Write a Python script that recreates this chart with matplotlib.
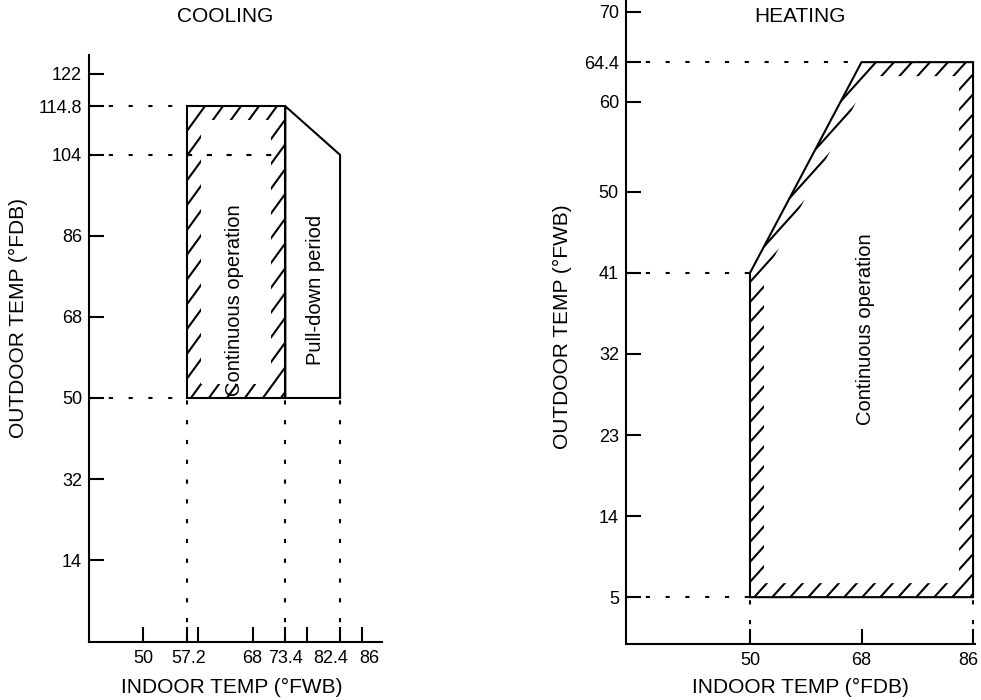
import numpy as np
import matplotlib
matplotlib.use("Agg")
import matplotlib.pyplot as plt
import matplotlib.transforms as mtrans
from matplotlib.path import Path
from matplotlib.patches import PathPatch
from matplotlib.collections import LineCollection

plt.rcParams['font.family'] = ['Liberation Sans', 'DejaVu Sans']

# cooling chart data
cool_xticks = [50, 57.2, 68, 73.4, 82.4, 86]
cool_xminor = [59, 77]
cool_yticks = [14, 32, 50, 68, 86, 104, 114.8, 122]
cool_cont_x = [57.2, 57.2, 73.4, 73.4]          # continuous operation
cool_cont_y = [50, 114.8, 114.8, 50]
cool_pull_x = [73.4, 82.4, 82.4, 73.4]          # pull-down period
cool_pull_y = [114.8, 104, 50, 50]

# heating chart data
heat_xticks = [50, 68, 86]
heat_yticks = [5, 14, 23, 32, 41, 50, 60, 64.4, 70]
heat_x = [50, 50, 68, 86, 86]
heat_y = [5, 41, 64.4, 64.4, 5]

LW = 1.5
DOT = dict(color='black', lw=1.5, linestyle=(0, (2, 7.5)))


def ccw(pts):
    pts = np.asarray(pts, float)
    area = 0.5 * np.sum(pts[:, 0] * np.roll(pts[:, 1], -1) - np.roll(pts[:, 0], -1) * pts[:, 1])
    return pts[::-1] if area < 0 else pts


def inset(pts, w):
    """Shrink a CCW polygon (display coords) inward by w pixels."""
    n = len(pts)
    lines = []
    for i in range(n):
        p, q = pts[i], pts[(i + 1) % n]
        d = (q - p) / np.linalg.norm(q - p)
        lines.append((p + w * np.array([-d[1], d[0]]), d))
    out = []
    for i in range(n):
        (p1, d1), (p2, d2) = lines[i - 1], lines[i]
        t, s = np.linalg.solve(np.array([d1, -d2]).T, p2 - p1)
        out.append(p1 + t * d1)
    return np.array(out)


def hatched_border(ax, xs, ys, width=14, spacing=18, angle=54):
    """Draw short slanted strokes along the inside of a polygon's border."""
    tr = ax.transData
    outer = ccw(tr.transform(np.column_stack([xs, ys])))
    inner = inset(outer, width)[::-1]
    verts = np.vstack([outer, outer[:1], inner, inner[:1]])
    codes = ([Path.MOVETO] + [Path.LINETO] * (len(outer) - 1) + [Path.CLOSEPOLY]
             + [Path.MOVETO] + [Path.LINETO] * (len(inner) - 1) + [Path.CLOSEPOLY])
    frame = PathPatch(Path(tr.inverted().transform(verts), codes),
                      facecolor='none', edgecolor='none', lw=0)
    ax.add_patch(frame)
    x0, x1 = outer[:, 0].min(), outer[:, 0].max()
    y0, y1 = outer[:, 1].min(), outer[:, 1].max()
    run = (y1 - y0) / np.tan(np.radians(angle))
    segs = []
    for a in np.arange(x0 - run - spacing, x1 + spacing, spacing):
        segs.append(tr.inverted().transform([(a, y0), (a + run, y1)]))
    lc = LineCollection(segs, colors='black', linewidths=1.5)
    lc.set_clip_path(frame)
    ax.add_collection(lc)


def nudge_labels(ax, shifts):
    for lab in ax.get_xticklabels():
        dx = shifts.get(lab.get_text(), 0)
        if dx:
            lab.set_transform(lab.get_transform() + mtrans.ScaledTranslation(dx / 100, 0, fig.dpi_scale_trans))


def style_axes(ax):
    for side in ['top', 'right']:
        ax.spines[side].set_visible(False)
    for side in ['left', 'bottom']:
        ax.spines[side].set_linewidth(LW)
    ax.tick_params(which='both', direction='in', length=11, width=LW, labelsize=13)
    ax.tick_params(axis='y', pad=5)
    ax.tick_params(axis='x', pad=6)


fig = plt.figure(figsize=(9.81, 7.0), dpi=100)

# ---------------- COOLING ----------------
ax1 = fig.add_axes([0.0907, 0.0829, 0.2987, 0.8386])
ax1.set_xlim(41.1, 89.3)
ax1.set_ylim(-4.2, 126.2)
style_axes(ax1)
ax1.set_xticks(cool_xticks)
ax1.set_xticklabels(['%g' % v for v in cool_xticks])
ax1.set_xticks(cool_xminor, minor=True)
ax1.set_yticks(cool_yticks)
ax1.set_yticklabels(['%g' % v for v in cool_yticks])
nudge_labels(ax1, {'82.4': -9, '86': 7, '57.2': 2})

xmin, ymin = ax1.get_xlim()[0], ax1.get_ylim()[0]
ax1.plot([xmin, cool_cont_x[0]], [cool_cont_y[1]] * 2, **DOT)
ax1.plot([xmin, cool_pull_x[1]], [cool_pull_y[1]] * 2, **DOT)
ax1.plot([xmin, cool_cont_x[0]], [cool_cont_y[0]] * 2, **DOT)
for xv in [cool_cont_x[0], cool_cont_x[2], cool_pull_x[1]]:
    ax1.plot([xv, xv], [ymin, cool_cont_y[0]], **DOT)

ax1.fill(cool_pull_x, cool_pull_y, facecolor='white', edgecolor='black', lw=LW, zorder=3)
ax1.fill(cool_cont_x, cool_cont_y, facecolor='none', edgecolor='black', lw=LW, zorder=3)
ax1.plot([cool_cont_x[0], cool_pull_x[1]], [cool_pull_y[1]] * 2, **DOT)
hatched_border(ax1, cool_cont_x, cool_cont_y)

ax1.text(65.1, 71.8, 'Continuous operation', rotation=90, ha='center', va='center', fontsize=14.5)
ax1.text(78.3, 74, 'Pull-down period', rotation=90, ha='center', va='center', fontsize=14.5)
ax1.set_xlabel('INDOOR TEMP (°FWB)', fontsize=15, va='center')
ax1.set_ylabel('OUTDOOR TEMP (°FDB)', fontsize=15, va='center')
ax1.xaxis.set_label_coords(0.488, -0.078)
ax1.yaxis.set_label_coords(-0.239, 0.552)

# ---------------- HEATING ----------------
ax2 = fig.add_axes([0.638, 0.08, 0.3558, 0.92])
ax2.set_xlim(29.97, 86.3)
ax2.set_ylim(-0.2, 71.3)
style_axes(ax2)
ax2.set_xticks(heat_xticks)
ax2.set_xticklabels(['%g' % v for v in heat_xticks])
ax2.set_yticks(heat_yticks)
ax2.set_yticklabels(['%g' % v for v in heat_yticks])
nudge_labels(ax2, {'86': -5})

xmin, ymin = ax2.get_xlim()[0], ax2.get_ylim()[0]
ax2.plot([xmin, heat_x[2]], [heat_y[2]] * 2, **DOT)
ax2.plot([xmin, heat_x[1]], [heat_y[1]] * 2, **DOT)
ax2.plot([xmin, heat_x[0]], [heat_y[0]] * 2, **DOT)
for xv in [heat_x[0], heat_x[3]]:
    ax2.plot([xv, xv], [ymin, heat_y[0]], **DOT)

ax2.fill(heat_x, heat_y, facecolor='none', edgecolor='black', lw=LW, zorder=3)
hatched_border(ax2, heat_x, heat_y, angle=48)

ax2.text(68.6, 34.7, 'Continuous operation', rotation=90, ha='center', va='center', fontsize=14.5)
ax2.set_xlabel('INDOOR TEMP (°FDB)', fontsize=15, va='center')
ax2.set_ylabel('OUTDOOR TEMP (°FWB)', fontsize=15, va='center')
ax2.xaxis.set_label_coords(0.499, -0.068)
ax2.yaxis.set_label_coords(-0.183, 0.492)

fig.text(225 / 981, 1 - 17 / 700, 'COOLING', ha='center', va='center', fontsize=15)
fig.text(800 / 981, 1 - 17 / 700, 'HEATING', ha='center', va='center', fontsize=15)

fig.savefig('out.png', dpi=100)
